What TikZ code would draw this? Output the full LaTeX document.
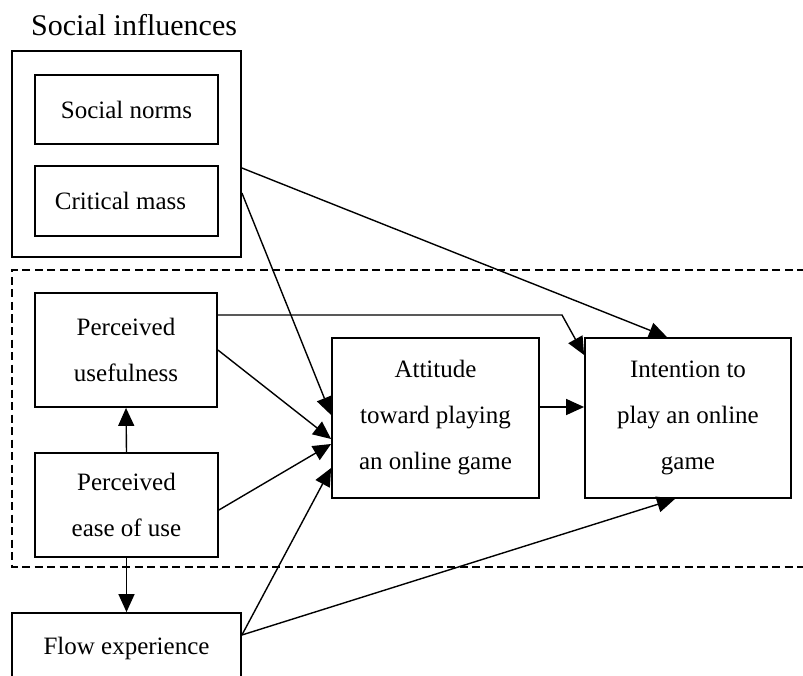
\documentclass[tikz,border=0pt]{standalone}
\usepackage{fontspec}
\setmainfont{Liberation Serif}
\usetikzlibrary{arrows.meta,calc}
\begin{document}
\begin{tikzpicture}[x=1pt,y=-1pt,
  box/.style={draw, line width=1.8pt, rectangle, inner sep=0pt, align=center,
    font=\fontsize{25}{46}\selectfont},
  conn/.style={line width=1.4pt, -{Triangle[length=18pt,width=16pt]}},
  dashline/.style={line width=1.8pt, dash pattern=on 8pt off 4.5pt}]
\useasboundingbox (0,0) rectangle (803,676);
\clip (0,0) rectangle (803,676);
% title
\node[anchor=base west, inner sep=0pt, font=\fontsize{30}{36}\selectfont] (title) at (31,36) {Social influences};
% social influences group
\node[box, minimum width=229pt, minimum height=206pt] (social) at (126.5,154) {};
\node[box, minimum width=183pt, minimum height=69pt] (norms) at (126.5,109.5) {Social norms};
\node[box, minimum width=183pt, minimum height=70pt] (crit) at (126.5,201) {Critical mass\hspace{12pt}};
% dashed group
\draw[dashline] (830,270) -- (12,270) -- (12,567) -- (830,567);
% TAM boxes
\node[box, minimum width=182pt, minimum height=114pt] (useful) at (126,350) {Perceived\\usefulness};
\node[box, minimum width=183pt, minimum height=104pt] (ease) at (126.5,505) {Perceived\\ease of use};
\node[box, minimum width=229pt, minimum height=70pt] (flow) at (126.5,648) {Flow experience};
\node[box, minimum width=207pt, minimum height=160pt] (att) at (435.5,418) {Attitude\\toward playing\\an online game};
\node[box, minimum width=206pt, minimum height=160pt] (int) at (688,418) {Intention to\\play an online\\game};
% connectors
\draw[conn] ([yshift=-14pt]social.east) -- ([xshift=-21pt]int.north);
\draw[conn] ([yshift=-39pt]social.east) -- ([yshift=3pt]att.west);
\draw[conn] ([yshift=35pt]useful.east) -- (562,315) -- ([yshift=63pt]int.west);
\draw[conn] (useful.east) -- ([yshift=-21pt]att.west);
\draw[conn] ([yshift=-5pt]ease.east) -- ([yshift=-26pt]att.west);
\draw[conn] ([yshift=13pt]flow.east) -- ([yshift=-50pt]att.west);
\draw[conn] ([yshift=13pt]flow.east) -- ([xshift=-13pt]int.south);
\draw[conn] ([yshift=11pt]att.east) -- ([yshift=11pt]int.west);
\draw[conn] (ease.north) -- (useful.south);
\draw[conn] (ease.south) -- (flow.north);
\end{tikzpicture}
\end{document}
